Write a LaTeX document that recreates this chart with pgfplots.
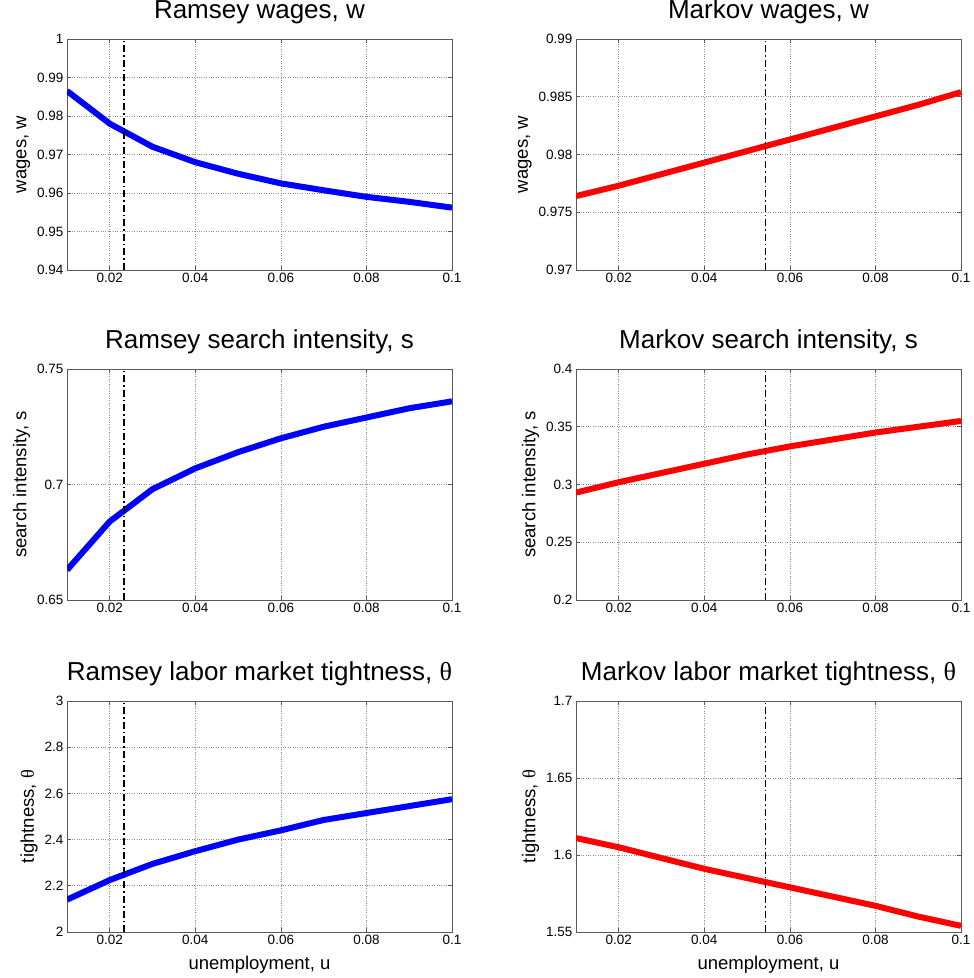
\documentclass[border=0pt]{standalone}
\usepackage{fontspec}
\setmainfont{Liberation Sans}
\newfontfamily\symf{Liberation Serif}
\usepackage{pgfplots}
\pgfplotsset{compat=1.18}
\pgfplotsset{
  mstyle/.style={
    scale only axis, width=385pt, height=231pt,
    anchor=south west,
    xmin=0.01, xmax=0.1,
    xtick={0.02,0.04,0.06,0.08,0.1},
    scaled ticks=false,
    grid=major,
    major grid style={dotted, black!45, line width=0.6pt},
    axis line style={black!65, line width=0.7pt},
    tick style={black!65, line width=0.6pt},
    tick align=inside,
    major tick length=4pt,
    ticklabel style={font=\fontsize{13.5}{15}\selectfont},
    /pgf/number format/assume math mode=true,
    xticklabel style={/pgf/number format/.cd, fixed, precision=3},
    yticklabel style={/pgf/number format/.cd, fixed, precision=3},
    title style={font=\fontsize{26}{30}\selectfont, anchor=base, at={(0.5,1)}, yshift=14pt},
    label style={font=\fontsize{18.5}{22}\selectfont},
    xlabel style={anchor=base, at={(axis description cs:0.5,0)}, yshift=-37pt},
  },
  ramsey/.style={blue, line width=6pt},
  markov/.style={red, line width=6pt},
  vline/.style={black, line width=1.8pt, dash pattern=on 7pt off 3pt on 1.5pt off 3pt},
}
\begin{document}
\begin{tikzpicture}[x=1pt,y=1pt]
\useasboundingbox (0,0) rectangle (974,978);

% ---- Row 1 ----
\begin{axis}[mstyle, at={(67pt,708pt)},
  ymin=0.94, ymax=1, ytick={0.94,0.95,0.96,0.97,0.98,0.99,1},
  title={Ramsey wages, w}, ylabel={wages, w}]
\addplot[ramsey] coordinates {(0.01,0.9865) (0.02,0.9780) (0.03,0.9720) (0.04,0.9680) (0.05,0.9650) (0.06,0.9625) (0.07,0.9607) (0.08,0.9590) (0.09,0.9577) (0.1,0.9562)};
\addplot[vline] coordinates {(0.0233,0.94) (0.0233,1)};
\end{axis}

\begin{axis}[mstyle, at={(576pt,708pt)},
  ymin=0.97, ymax=0.99, ytick={0.97,0.975,0.98,0.985,0.99},
  title={Markov wages, w}, ylabel={wages, w}]
\addplot[markov] coordinates {(0.01,0.9764) (0.02,0.9773) (0.03,0.9783) (0.04,0.9793) (0.05,0.9803) (0.06,0.9813) (0.07,0.9823) (0.08,0.9833) (0.09,0.9843) (0.1,0.9854)};
\addplot[vline] coordinates {(0.0543,0.97) (0.0543,0.99)};
\end{axis}

% ---- Row 2 ----
\begin{axis}[mstyle, at={(67pt,378pt)},
  ymin=0.65, ymax=0.75, ytick={0.65,0.7,0.75},
  title={Ramsey search intensity, s}, ylabel={search intensity, s}]
\addplot[ramsey] coordinates {(0.01,0.663) (0.02,0.684) (0.03,0.698) (0.04,0.707) (0.05,0.714) (0.06,0.720) (0.07,0.725) (0.08,0.729) (0.09,0.733) (0.1,0.736)};
\addplot[vline] coordinates {(0.0233,0.65) (0.0233,0.75)};
\end{axis}

\begin{axis}[mstyle, at={(576pt,378pt)},
  ymin=0.2, ymax=0.4, ytick={0.2,0.25,0.3,0.35,0.4},
  title={Markov search intensity, s}, ylabel={search intensity, s}]
\addplot[markov] coordinates {(0.01,0.293) (0.02,0.302) (0.03,0.310) (0.04,0.318) (0.05,0.326) (0.06,0.333) (0.07,0.339) (0.08,0.345) (0.09,0.350) (0.1,0.355)};
\addplot[vline] coordinates {(0.0543,0.2) (0.0543,0.4)};
\end{axis}

% ---- Row 3 ----
\begin{axis}[mstyle, at={(67pt,46pt)},
  ymin=2, ymax=3, ytick={2,2.2,2.4,2.6,2.8,3},
  title={Ramsey labor market tightness, {\symf θ}}, ylabel={tightness, {\symf θ}},
  xlabel={unemployment, u}]
\addplot[ramsey] coordinates {(0.01,2.140) (0.02,2.225) (0.03,2.295) (0.04,2.350) (0.05,2.400) (0.06,2.440) (0.07,2.485) (0.08,2.515) (0.09,2.545) (0.1,2.575)};
\addplot[vline] coordinates {(0.0233,2) (0.0233,3)};
\end{axis}

\begin{axis}[mstyle, at={(576pt,46pt)},
  ymin=1.55, ymax=1.7, ytick={1.55,1.6,1.65,1.7},
  title={Markov labor market tightness, {\symf θ}}, ylabel={tightness, {\symf θ}},
  xlabel={unemployment, u}]
\addplot[markov] coordinates {(0.01,1.611) (0.02,1.605) (0.03,1.598) (0.04,1.591) (0.05,1.585) (0.06,1.579) (0.07,1.573) (0.08,1.567) (0.09,1.560) (0.1,1.554)};
\addplot[vline] coordinates {(0.0543,1.55) (0.0543,1.7)};
\end{axis}
\end{tikzpicture}
\end{document}
